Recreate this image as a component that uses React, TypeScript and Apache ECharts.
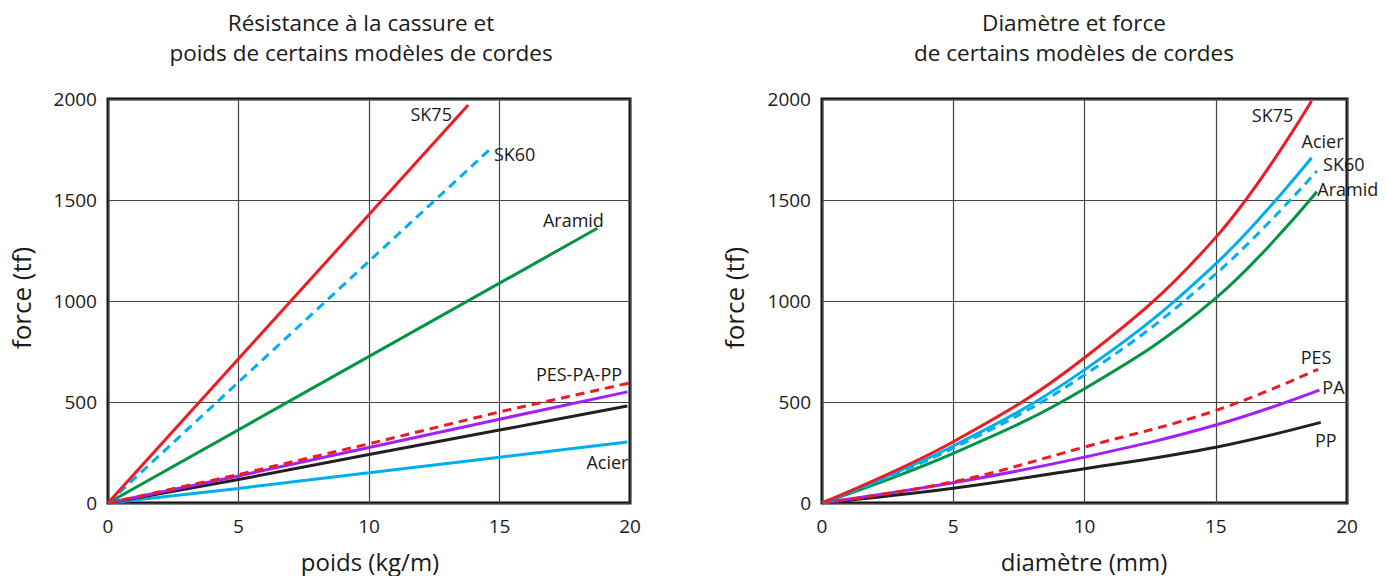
import React, { useEffect, useRef } from "react";
import * as echarts from "echarts";

// ---- data ----
const xTicks = [0, 5, 10, 15, 20];
const yTicks = [0, 500, 1000, 1500, 2000];

// Left chart: force vs poids (kg/m)
const leftSK75 = [[0, 0], [13.8, 1970]];
const leftSK60 = [[0, 0], [14.7, 1759]];
const leftAramid = [[0, 0], [18.75, 1360]];
const leftPES = [[0, 0], [5, 141], [10, 293], [15, 451], [20, 595]];
const leftPA = [[0, 0], [5, 134], [10, 275], [15, 415], [19.9, 550]];
const leftPP = [[0, 0], [5, 116], [10, 240], [15, 361], [19.9, 480]];
const leftAcier = [[0, 0], [5, 72], [10, 150], [15, 227], [19.9, 302]];

// Right chart: force vs diamètre (mm)
const rightSK75 = [[0, 0], [5, 303], [10, 719], [15, 1315], [18.65, 1990]];
const rightAcier = [[0, 0], [5, 282], [10, 659], [15, 1184], [18.65, 1709]];
const rightSK60 = [[0, 0], [5, 271], [10, 634], [15, 1134], [18.85, 1643]];
const rightAramid = [[0, 0], [5, 246], [10, 566], [15, 1014], [18.85, 1541]];
const rightPES = [[0, 0], [5, 105], [10, 277], [15, 458], [18.9, 662]];
const rightPA = [[0, 0], [5, 100], [10, 227], [15, 386], [18.95, 559]];
const rightPP = [[0, 0], [5, 73], [10, 170], [15, 276], [19, 399]];

const RED = "#ed1c24";
const BLUE = "#00aeef";
const GREEN = "#009444";
const PURPLE = "#a21fff";
const BLACK = "#231f20";
const FONT = "'Open Sans', 'Noto Sans', sans-serif";
const TXT = "#1a1a1a";

function lineSeries(
  name: string,
  idx: number,
  data: number[][],
  color: string,
  dashed: boolean,
  smooth: boolean | number,
  label?: { text: string; offset: number[] }
) {
  const last = data[data.length - 1];
  return {
    type: "line",
    name,
    xAxisIndex: idx,
    yAxisIndex: idx,
    data,
    smooth,
    showSymbol: false,
    symbol: "none",
    lineStyle: { color, width: 3, type: dashed ? [9, 6] : "solid" },
    itemStyle: { color },
    emphasis: { disabled: true },
    z: 3,
    markPoint: label
      ? {
          symbol: "circle",
          symbolSize: 1,
          itemStyle: { color: "rgba(0,0,0,0)" },
          silent: true,
          data: [
            {
              coord: last,
              label: {
                show: true,
                formatter: label.text,
                position: "inside",
                offset: label.offset,
                align: "center",
                verticalAlign: "middle",
                color: TXT,
                fontSize: 18,
                fontFamily: FONT,
              },
            },
          ],
        }
      : undefined,
  };
}

function axisPair(idx: number) {
  return {
    x: {
      type: "value",
      gridIndex: idx,
      min: xTicks[0],
      max: xTicks[xTicks.length - 1],
      interval: 5,
      axisLine: { show: false },
      axisTick: { show: false },
      axisLabel: { fontSize: 19, color: TXT, fontFamily: FONT, margin: 13, formatter: (v: number) => String(v) },
      splitLine: { show: true, lineStyle: { color: "#444", width: 1.2 } },
    },
    y: {
      type: "value",
      gridIndex: idx,
      min: yTicks[0],
      max: yTicks[yTicks.length - 1],
      interval: 500,
      axisLine: { show: false },
      axisTick: { show: false },
      axisLabel: { fontSize: 19, color: TXT, fontFamily: FONT, margin: 11, formatter: (v: number) => String(v) },
      splitLine: { show: true, lineStyle: { color: "#444", width: 1.2 } },
    },
  };
}

export default function App() {
  const ref = useRef<HTMLDivElement>(null);
  useEffect(() => {
    if (!ref.current) return;
    const chart = echarts.init(ref.current, undefined, { renderer: "svg" });
    const a0 = axisPair(0);
    const a1 = axisPair(1);
    const txt = (t: string, x: number, y: number, size: number, rot = 0) => ({
      type: "text",
      x,
      y,
      rotation: rot,
      style: {
        text: t,
        fontSize: size,
        fontFamily: FONT,
        fill: TXT,
        align: "center",
        verticalAlign: "middle",
        lineHeight: 30,
      },
      z: 10,
    });
    chart.setOption({
      animation: false,
      backgroundColor: "#ffffff",
      grid: [
        { left: 108, right: 1387 - 630, top: 99, bottom: 576 - 503, show: true, borderColor: "#111", borderWidth: 3, backgroundColor: "transparent" },
        { left: 822, right: 1387 - 1347, top: 99, bottom: 576 - 503, show: true, borderColor: "#111", borderWidth: 3, backgroundColor: "transparent" },
      ],
      xAxis: [a0.x, a1.x],
      yAxis: [a0.y, a1.y],
      graphic: [
        txt("Résistance à la cassure et\npoids de certains modèles de cordes", 361, 37, 22.5),
        txt("Diamètre et force\nde certains modèles de cordes", 1074, 37, 22.5),
        txt("force (tf)", 21, 298, 26, Math.PI / 2),
        txt("force (tf)", 734, 298, 26, Math.PI / 2),
        txt("poids (kg/m)", 370, 561, 24),
        txt("diamètre (mm)", 1084, 561, 24),
      ],
      series: [
        lineSeries("Acier", 0, leftAcier, BLUE, false, false, { text: "Acier", offset: [-20, 20] }),
        lineSeries("PP", 0, leftPP, BLACK, false, false),
        lineSeries("PA", 0, leftPA, PURPLE, false, false),
        lineSeries("PES", 0, leftPES, RED, true, false, { text: "PES-PA-PP", offset: [-51, -9] }),
        lineSeries("Aramid", 0, leftAramid, GREEN, false, false, { text: "Aramid", offset: [-24, -8] }),
        lineSeries("SK60", 0, leftSK60, BLUE, true, false, { text: "SK60", offset: [23, 6] }),
        lineSeries("SK75", 0, leftSK75, RED, false, false, { text: "SK75", offset: [-37, 9] }),

        lineSeries("PP", 1, rightPP, BLACK, false, 0.4, { text: "PP", offset: [5, 18] }),
        lineSeries("PA", 1, rightPA, PURPLE, false, 0.4, { text: "PA", offset: [14, -3] }),
        lineSeries("PES", 1, rightPES, RED, true, 0.4, { text: "PES", offset: [-2, -12] }),
        lineSeries("Aramid", 1, rightAramid, GREEN, false, 0.4, { text: "Aramid", offset: [31, -3] }),
        lineSeries("SK60", 1, rightSK60, BLUE, true, 0.4, { text: "SK60", offset: [27, -7] }),
        lineSeries("Acier", 1, rightAcier, BLUE, false, 0.4, { text: "Acier", offset: [11, -17] }),
        lineSeries("SK75", 1, rightSK75, RED, false, 0.4, { text: "SK75", offset: [-39, 14] }),
      ],
    });
    return () => chart.dispose();
  }, []);
  return (
    <div
      ref={ref}
      style={{ position: "fixed", left: 0, top: 0, width: 1387, height: 576 }}
    />
  );
}
